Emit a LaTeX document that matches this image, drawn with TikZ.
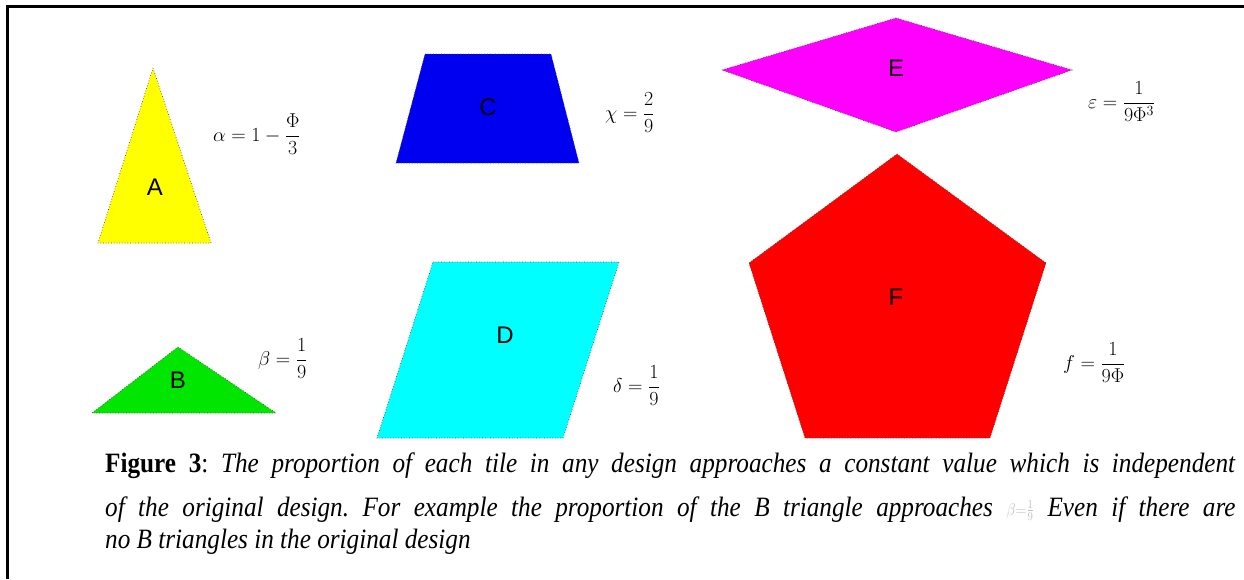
\RequirePackage{fix-cm}
\documentclass[tikz,border=0pt]{standalone}
\usepackage{amsmath}
\usepackage{graphicx}
\usepackage{fontspec}
\setmainfont{Liberation Serif}
\newfontfamily\tagfont{Liberation Sans}
\usetikzlibrary{positioning}
\definecolor{tileA}{RGB}{255,255,0}
\definecolor{tileB}{RGB}{0,230,0}
\definecolor{tileC}{RGB}{0,0,240}
\definecolor{tileD}{RGB}{0,255,255}
\definecolor{tileE}{RGB}{255,0,255}
\definecolor{tileF}{RGB}{255,0,0}
\tikzset{
  frame/.style  ={line width=3pt, black},
  tile/.style   ={draw=black!70, dotted, line width=0.7pt},
  tag/.style    ={font=\tagfont\fontsize{24}{26}\selectfont, inner sep=0pt},
  frm/.style    ={font=\fontsize{20}{22}\selectfont, inner sep=0pt, anchor=base west},
  captxt/.style ={font=\frenchspacing\fontsize{28}{32}\selectfont, inner sep=0pt, anchor=base west},
}

\begin{document}
\begin{tikzpicture}[x=1pt,y=-1pt]
    \useasboundingbox (0,0) rectangle (1244,579);
    \draw[frame] (7,579) -- (7,6) -- (1244,6);
    % tiles
    \draw[tile, fill=tileA] (153,68) -- (211,243) -- (98,243) -- cycle;
    \draw[tile, fill=tileB] (178,347) -- (276,413) -- (92,413) -- cycle;
    \draw[tile, fill=tileC] (425,54) -- (551,54) -- (579,163) -- (396,163) -- cycle;
    \draw[tile, fill=tileD] (433,262) -- (619,262) -- (563,438) -- (377,438) -- cycle;
    \draw[tile, fill=tileE] (722,70) -- (896,18) -- (1072,70) -- (896,132) -- cycle;
    \draw[tile, fill=tileF] (897,154) -- (1046,263) -- (990,438) -- (805,438) -- (749,263) -- cycle;
    \node[tag] (a) at (155,187) {A};
    \node[tag] (b) at (178,380) {B};
    \node[tag] (c) at (488,107) {C};
    \node[tag] (d) at (505,335) {D};
    \node[tag] (e) at (896,68) {E};
    \node[tag] (f) at (896,297) {F};
    % proportions
    \node[frm] (fa) at (213,141) {$\displaystyle \alpha = 1 - \frac{\Phi}{3}$};
    \node[frm] (fb) at (258,365) {$\displaystyle \beta = \frac{1}{9}$};
    \node[frm] (fc) at (605,119) {$\displaystyle \chi = \frac{2}{9}$};
    \node[frm] (fd) at (613,392) {$\displaystyle \delta = \frac{1}{9}$};
    \node[frm] (fe) at (1088,108) {$\displaystyle \varepsilon = \frac{1}{9\Phi^{3}}$};
    \node[frm] (ff) at (1063,369) {$\displaystyle f = \frac{1}{9\Phi}$};
    % caption
    \node[captxt] (cap1) at (105,472) {\scalebox{0.9}[1]{\makebox[1256pt][s]{\textbf{Figure 3}: \textit{The proportion of each tile in any design approaches a constant value which is independent}}}};
    \node[captxt] (cap2) at (105,516) {\scalebox{0.9}[1]{\makebox[1256pt][s]{\textit{of the original design. For example the proportion of the B triangle approaches} \raisebox{1pt}{\fontsize{17}{17}\selectfont\color{black!25}$\beta{=}\frac{1}{9}$} \textit{Even if there are}}}};
    \node[captxt] (cap3) at (105,548) {\scalebox{0.9}[1]{\textit{no B triangles in the original design}}};
\end{tikzpicture}
\end{document}
